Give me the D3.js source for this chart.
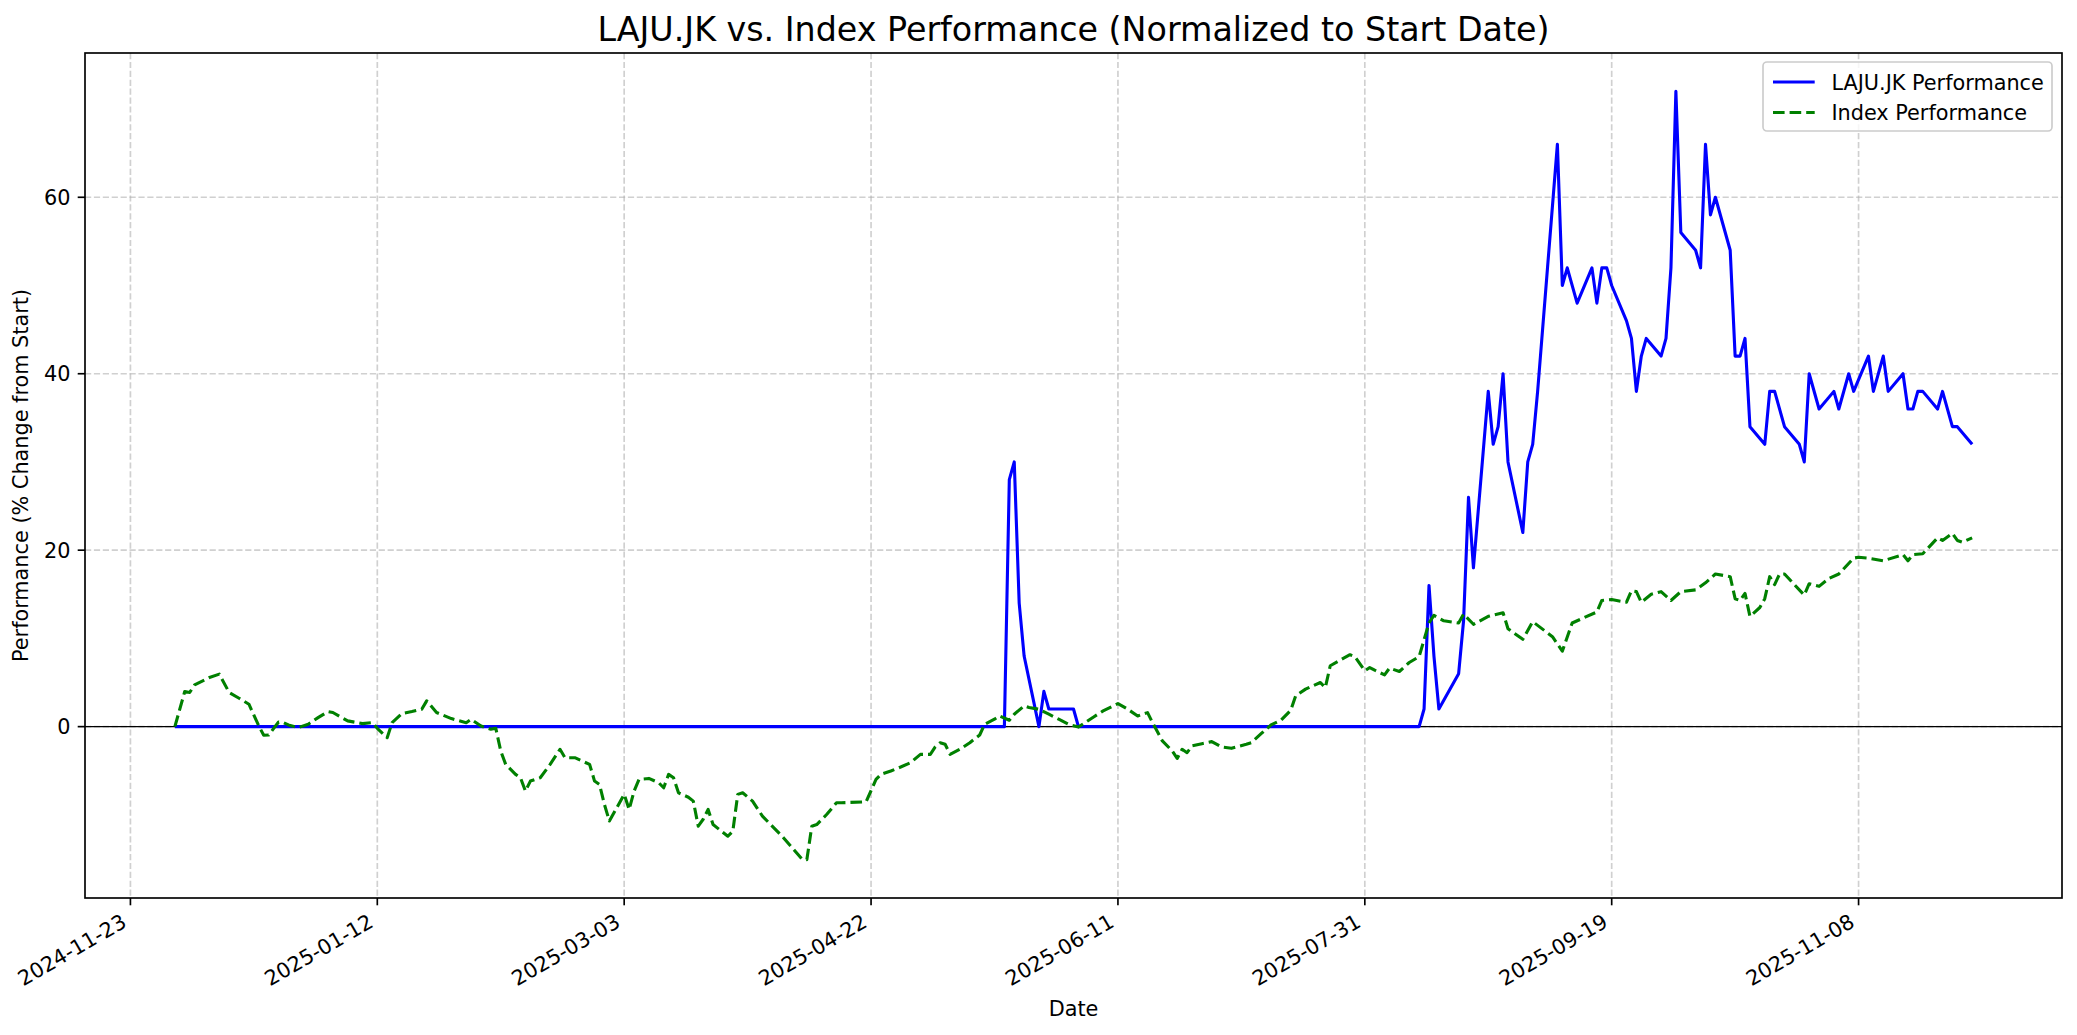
<!DOCTYPE html>
<html lang="en">
<head>
<meta charset="UTF-8">
<title>LAJU.JK vs. Index Performance</title>
<script src="https://d3js.org/d3.v7.min.js"></script>
<style>
    body {margin: 0; background: #fff;}
    text {font-family: "DejaVu Sans", sans-serif; fill: #000;}
</style>
</head>
<body>
<div id="chart"></div>
<script>

    // LAJU.JK, % change from the first day (vertices)
    var lajuDates = [
        "2024-12-02","2025-05-19","2025-05-20","2025-05-21","2025-05-22","2025-05-23","2025-05-26","2025-05-27",
        "2025-05-28","2025-06-02","2025-06-03","2025-08-11","2025-08-12","2025-08-13","2025-08-14","2025-08-15",
        "2025-08-19","2025-08-20","2025-08-21","2025-08-22","2025-08-25","2025-08-26","2025-08-27","2025-08-28",
        "2025-08-29","2025-09-01","2025-09-02","2025-09-03","2025-09-04","2025-09-06","2025-09-08","2025-09-09",
        "2025-09-10","2025-09-12","2025-09-15","2025-09-16","2025-09-17","2025-09-18","2025-09-19","2025-09-22",
        "2025-09-23","2025-09-24","2025-09-25","2025-09-26","2025-09-29","2025-09-30","2025-10-01","2025-10-02",
        "2025-10-03","2025-10-06","2025-10-07","2025-10-08","2025-10-09","2025-10-10","2025-10-13","2025-10-14",
        "2025-10-15","2025-10-16","2025-10-17","2025-10-20","2025-10-21","2025-10-22","2025-10-24","2025-10-27",
        "2025-10-28","2025-10-29","2025-10-31","2025-11-03","2025-11-04","2025-11-06","2025-11-07","2025-11-10",
        "2025-11-11","2025-11-13","2025-11-14","2025-11-17","2025-11-18","2025-11-19","2025-11-20","2025-11-21",
        "2025-11-24","2025-11-25","2025-11-27","2025-11-28","2025-12-01"
    ];
    var lajuValues = [
        0, 0, 28, 30, 14, 8, 0, 4,
        2, 2, 0, 0, 2, 16, 8, 2,
        6, 12, 26, 18, 38, 32, 34, 40,
        30, 22, 30, 32, 38, 52, 66, 50,
        52, 48, 52, 48, 52, 52, 50, 46,
        44, 38, 42, 44, 42, 44, 52, 72,
        56, 54, 52, 66, 58, 60, 54, 42,
        42, 44, 34, 32, 38, 38, 34, 32,
        30, 40, 36, 38, 36, 40, 38, 42,
        38, 42, 38, 40, 36, 36, 38, 38,
        36, 38, 34, 34, 32
    ];

    // Index, % change from the first day
    var indexDates = [
        "2024-12-02","2024-12-04","2024-12-05","2024-12-06","2024-12-09","2024-12-11","2024-12-13","2024-12-15",
        "2024-12-17","2024-12-19","2024-12-20","2024-12-21","2024-12-23","2024-12-24","2024-12-25","2024-12-27",
        "2024-12-29","2024-12-31","2025-01-02","2025-01-03","2025-01-06","2025-01-08","2025-01-09","2025-01-11",
        "2025-01-12","2025-01-14","2025-01-15","2025-01-17","2025-01-19","2025-01-21","2025-01-22","2025-01-24",
        "2025-01-27","2025-01-30","2025-01-31","2025-02-02","2025-02-04","2025-02-05","2025-02-06","2025-02-07",
        "2025-02-09","2025-02-10","2025-02-11","2025-02-12","2025-02-14","2025-02-16","2025-02-18","2025-02-19",
        "2025-02-21","2025-02-24","2025-02-25","2025-02-26","2025-02-27","2025-02-28","2025-03-03","2025-03-04",
        "2025-03-05","2025-03-06","2025-03-08","2025-03-10","2025-03-11","2025-03-12","2025-03-13","2025-03-14",
        "2025-03-16","2025-03-17","2025-03-18","2025-03-19","2025-03-20","2025-03-21","2025-03-24","2025-03-25",
        "2025-03-26","2025-03-27","2025-03-29","2025-03-31","2025-04-04","2025-04-08","2025-04-09","2025-04-10",
        "2025-04-11","2025-04-13","2025-04-15","2025-04-16","2025-04-21","2025-04-23","2025-04-24","2025-04-26",
        "2025-04-28","2025-04-30","2025-05-02","2025-05-04","2025-05-05","2025-05-06","2025-05-07","2025-05-08",
        "2025-05-10","2025-05-12","2025-05-14","2025-05-15","2025-05-17","2025-05-18","2025-05-20","2025-05-21",
        "2025-05-23","2025-05-24","2025-05-26","2025-05-28","2025-05-30","2025-06-01","2025-06-03","2025-06-06",
        "2025-06-08","2025-06-11","2025-06-13","2025-06-15","2025-06-17","2025-06-18","2025-06-20","2025-06-22",
        "2025-06-23","2025-06-24","2025-06-25","2025-06-26","2025-06-28","2025-06-30","2025-07-02","2025-07-04",
        "2025-07-07","2025-07-08","2025-07-10","2025-07-12","2025-07-14","2025-07-16","2025-07-17","2025-07-19",
        "2025-07-22","2025-07-23","2025-07-24","2025-07-26","2025-07-28","2025-07-29","2025-07-31","2025-08-01",
        "2025-08-02","2025-08-04","2025-08-05","2025-08-07","2025-08-09","2025-08-11","2025-08-13","2025-08-14",
        "2025-08-16","2025-08-19","2025-08-20","2025-08-22","2025-08-25","2025-08-28","2025-08-29","2025-09-01",
        "2025-09-03","2025-09-07","2025-09-09","2025-09-11","2025-09-13","2025-09-16","2025-09-17","2025-09-19",
        "2025-09-22","2025-09-23","2025-09-24","2025-09-25","2025-09-27","2025-09-29","2025-10-01","2025-10-03",
        "2025-10-06","2025-10-08","2025-10-10","2025-10-13","2025-10-14","2025-10-15","2025-10-16","2025-10-17",
        "2025-10-19","2025-10-20","2025-10-21","2025-10-22","2025-10-23","2025-10-24","2025-10-26","2025-10-28",
        "2025-10-29","2025-10-31","2025-11-02","2025-11-04","2025-11-07","2025-11-08","2025-11-10","2025-11-13",
        "2025-11-17","2025-11-18","2025-11-19","2025-11-21","2025-11-24","2025-11-25","2025-11-27","2025-11-28",
        "2025-11-29","2025-12-01"
    ];
    var indexValues = [
        0, 3.98, 3.87, 4.74, 5.57, 5.95, 3.87, 3.22,
        2.54, 0.08, -0.98, -0.95, 0.53, 0.45, 0.19, -0.11,
        0.27, 1.02, 1.71, 1.6, 0.65, 0.45, 0.34, 0.45,
        -0.19, -1.25, 0.45, 1.48, 1.71, 1.97, 2.92, 1.6,
        0.91, 0.45, 0.83, 0.08, -0.3, -0.19, -2.76, -4.28,
        -5.41, -5.79, -7.31, -6.17, -5.79, -4.28, -2.57, -3.52,
        -3.52, -4.28, -6.17, -6.55, -8.82, -10.7, -7.68, -9.39,
        -7.31, -5.98, -5.87, -6.36, -6.93, -5.41, -5.79, -7.5,
        -8.0, -8.44, -11.28, -10.5, -9.39, -11.1, -12.42, -11.85,
        -7.68, -7.5, -8.44, -10.15, -12.42, -15.0, -15.07, -11.28,
        -11.1, -9.96, -8.63, -8.63, -8.52, -5.98, -5.41, -5.03,
        -4.58, -4.09, -3.14, -3.14, -2.3, -1.82, -2.0, -3.14,
        -2.57, -1.82, -0.95, 0.27, 0.84, 1.22, 0.72, 1.41,
        2.35, 2.16, 1.97, 1.41, 0.84, 0.27, -0.05, 1.07,
        1.78, 2.61, 1.97, 1.21, 1.59, 0.45, -1.62, -2.76,
        -3.6, -2.57, -2.95, -2.19, -1.93, -1.7, -2.31, -2.46,
        -2.0, -1.82, -0.8, 0.19, 0.72, 1.86, 3.49, 4.25,
        5.0, 4.43, 6.9, 7.54, 8.15, 7.92, 6.33, 6.7,
        6.4, 5.87, 6.63, 6.25, 7.27, 7.94, 11.75, 12.6,
        12.0, 11.75, 12.75, 11.6, 12.5, 12.9, 11.1, 9.9,
        11.9, 10.2, 8.55, 11.75, 12.25, 13.0, 14.3, 14.4,
        14.1, 15.4, 15.3, 14.1, 15.0, 15.3, 14.3, 15.3,
        15.5, 16.3, 17.3, 17.0, 14.5, 14.3, 15.1, 12.5,
        13.5, 14.5, 17.0, 16.1, 17.3, 17.3, 16.1, 14.9,
        16.2, 15.9, 16.8, 17.3, 19.1, 19.2, 19.1, 18.8,
        19.5, 18.8, 19.5, 19.6, 21.4, 21.1, 21.9, 21.1,
        20.9, 21.4
    ];

    var xTickLabels = ["2024-11-23","2025-01-12","2025-03-03","2025-04-22","2025-06-11","2025-07-31","2025-09-19","2025-11-08"];
    var yTicks = [0, 20, 40, 60];
    var seriesNames = ["LAJU.JK Performance", "Index Performance"];

    var W = 2077, H = 1035;
    var plotL = 85, plotR = 2062, plotT = 53, plotB = 898;
    var fs = 20.8;   // 10pt at 150 dpi

    var parse = d3.timeParse("%Y-%m-%d");
    var laju = lajuDates.map(function(d, i) { return {date: parse(d), value: lajuValues[i]}; });
    var index = indexDates.map(function(d, i) { return {date: parse(d), value: indexValues[i]}; });
    var all = laju.concat(index);

    // matplotlib style 5% margins
    var xExt = d3.extent(all, function(d) { return d.date; });
    var xPad = (xExt[1] - xExt[0]) * 0.05;
    var yExt = d3.extent(all, function(d) { return d.value; });
    var yPad = (yExt[1] - yExt[0]) * 0.05;

    var x = d3.scaleTime()
        .domain([new Date(+xExt[0] - xPad), new Date(+xExt[1] + xPad)])
        .range([plotL, plotR]);
    var y = d3.scaleLinear()
        .domain([yExt[0] - yPad, yExt[1] + yPad])
        .range([plotB, plotT]);

    var svg = d3.select("#chart").append("svg")
        .attr("width", W)
        .attr("height", H);

    svg.append("rect").attr("width", W).attr("height", H).attr("fill", "#fff");

    // grid
    var grid = svg.append("g")
        .attr("stroke", "#b0b0b0")
        .attr("stroke-opacity", 0.6)
        .attr("stroke-width", 1.67)
        .attr("stroke-dasharray", "6.2,2.7");
    grid.selectAll(".vg").data(xTickLabels).enter().append("line")
        .attr("x1", function(d) { return x(parse(d)); })
        .attr("x2", function(d) { return x(parse(d)); })
        .attr("y1", plotT).attr("y2", plotB);
    grid.selectAll(".hg").data(yTicks).enter().append("line")
        .attr("y1", function(d) { return y(d); })
        .attr("y2", function(d) { return y(d); })
        .attr("x1", plotL).attr("x2", plotR);

    // zero line
    svg.append("line")
        .attr("x1", plotL).attr("x2", plotR)
        .attr("y1", y(0)).attr("y2", y(0))
        .attr("stroke", "#000")
        .attr("stroke-width", 1.2);

    var line = d3.line()
        .x(function(d) { return x(d.date); })
        .y(function(d) { return y(d.value); });

    var plot = svg.append("g");
    plot.append("path")
        .datum(laju)
        .attr("d", line)
        .attr("fill", "none")
        .attr("stroke", "#0000ff")
        .attr("stroke-width", 3.1)
        .attr("stroke-linejoin", "round");
    plot.append("path")
        .datum(index)
        .attr("d", line)
        .attr("fill", "none")
        .attr("stroke", "#008000")
        .attr("stroke-width", 3.1)
        .attr("stroke-dasharray", "11.6,5")
        .attr("stroke-linejoin", "round");

    // spines
    svg.append("rect")
        .attr("x", plotL).attr("y", plotT)
        .attr("width", plotR - plotL).attr("height", plotB - plotT)
        .attr("fill", "none")
        .attr("stroke", "#000")
        .attr("stroke-width", 1.67);

    // x ticks
    var xt = svg.append("g");
    xt.selectAll("line").data(xTickLabels).enter().append("line")
        .attr("x1", function(d) { return x(parse(d)); })
        .attr("x2", function(d) { return x(parse(d)); })
        .attr("y1", plotB).attr("y2", plotB + 7.3)
        .attr("stroke", "#000").attr("stroke-width", 1.67);
    xt.selectAll("text").data(xTickLabels).enter().append("text")
        .attr("transform", function(d) { return "translate(" + (x(parse(d)) - 2.5) + "," + (plotB + 28) + ") rotate(-30)"; })
        .attr("text-anchor", "end")
        .attr("font-size", fs)
        .text(function(d) { return d; });

    // y ticks
    var yt = svg.append("g");
    yt.selectAll("line").data(yTicks).enter().append("line")
        .attr("y1", function(d) { return y(d); })
        .attr("y2", function(d) { return y(d); })
        .attr("x1", plotL - 7.3).attr("x2", plotL)
        .attr("stroke", "#000").attr("stroke-width", 1.67);
    yt.selectAll("text").data(yTicks).enter().append("text")
        .attr("x", plotL - 14.6)
        .attr("y", function(d) { return y(d) + 7.5; })
        .attr("text-anchor", "end")
        .attr("font-size", fs)
        .text(function(d) { return d; });

    // labels
    svg.append("text")
        .attr("x", (plotL + plotR) / 2).attr("y", 41)
        .attr("text-anchor", "middle")
        .attr("font-size", 33.3)
        .text("LAJU.JK vs. Index Performance (Normalized to Start Date)");
    svg.append("text")
        .attr("x", (plotL + plotR) / 2).attr("y", 1016)
        .attr("text-anchor", "middle")
        .attr("font-size", fs)
        .text("Date");
    svg.append("text")
        .attr("transform", "translate(28," + ((plotT + plotB) / 2) + ") rotate(-90)")
        .attr("text-anchor", "middle")
        .attr("font-size", fs)
        .text("Performance (% Change from Start)");

    // legend
    var lg = svg.append("g");
    lg.append("rect")
        .attr("x", 1763).attr("y", 62)
        .attr("width", 2052 - 1763).attr("height", 69)
        .attr("rx", 4).attr("ry", 4)
        .attr("fill", "#fff").attr("fill-opacity", 0.8)
        .attr("stroke", "#cccccc").attr("stroke-width", 1.67);
    var rows = lg.selectAll(".row").data(seriesNames).enter().append("g")
        .attr("transform", function(d, i) { return "translate(1773," + (82 + i * 30.5) + ")"; });
    rows.append("line")
        .attr("x1", 0).attr("x2", 41.7)
        .attr("stroke", function(d, i) { return i ? "#008000" : "#0000ff"; })
        .attr("stroke-width", 3.1)
        .attr("stroke-dasharray", function(d, i) { return i ? "11.6,5" : null; });
    rows.append("text")
        .attr("x", 58.4).attr("y", 7.5)
        .attr("font-size", fs)
        .text(function(d) { return d; });

</script>
</body>
</html>
